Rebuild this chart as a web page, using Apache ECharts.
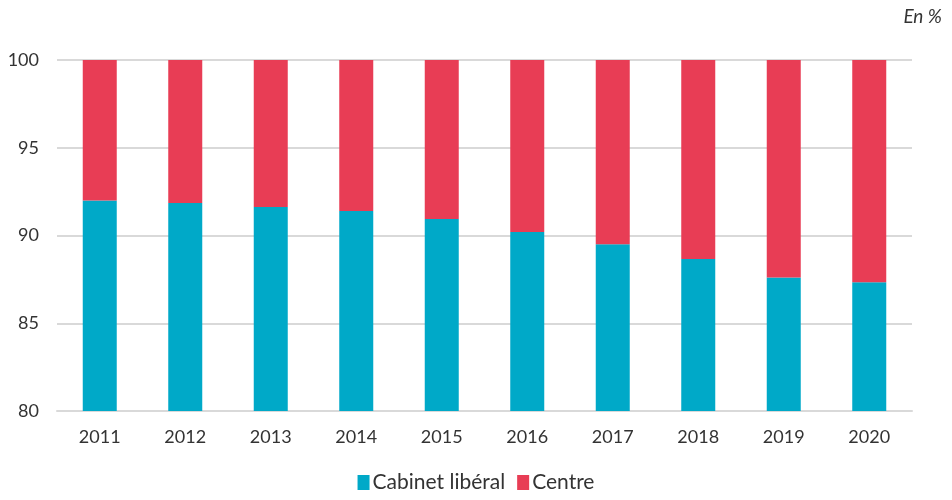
<!DOCTYPE html>
<html><head><meta charset="utf-8">
<script src="https://cdn.jsdelivr.net/npm/echarts@6/dist/echarts.min.js"></script>
<style>html,body{margin:0;padding:0;background:#fff}#c{width:952px;height:500px}</style>
</head><body><div id="c"></div>
<script>
const years = ['2011','2012','2013','2014','2015','2016','2017','2018','2019','2020'];
const cabinetLiberal = [92.0, 91.85, 91.62, 91.4, 90.94, 90.2, 89.5, 88.66, 87.6, 87.33];
const centre = [8.0, 8.15, 8.38, 8.6, 9.06, 9.8, 10.5, 11.34, 12.4, 12.67];
const chart = echarts.init(document.getElementById('c'));
const font = 'Lato';
chart.setOption({
  animation: false,
  textStyle: {fontFamily: font},
  grid: {left: 57, right: 40, top: 60, bottom: 89},
  graphic: [{type: 'text', right: 10, top: 7, style: {text: 'En %', font: 'italic 19px ' + font, fill: '#333'}}],
  legend: {bottom: 2, left: 'center', itemWidth: 12, itemHeight: 15, itemGap: 12,
    icon: 'rect', textStyle: {fontSize: 21, color: '#333', fontFamily: font, padding: [0,0,0,-2]},
    data: ['Cabinet libéral', 'Centre']},
  xAxis: {type: 'category', data: years,
    axisLine: {show: true, lineStyle: {color: '#d9d9d9', width: 2}}, axisTick: {show: false},
    axisLabel: {fontSize: 18, color: '#333', margin: 17}},
  yAxis: {type: 'value', min: 80, max: 100, interval: 5,
    axisLine: {show: false}, axisTick: {show: false},
    axisLabel: {fontSize: 18, color: '#333', margin: 18},
    splitLine: {lineStyle: {color: '#d9d9d9', width: 2}}},
  series: [
    {name: 'Cabinet libéral', type: 'bar', stack: 's', barWidth: 34, data: cabinetLiberal, itemStyle: {color: '#00A9C8'}},
    {name: 'Centre', type: 'bar', stack: 's', barWidth: 34, data: centre, itemStyle: {color: '#E83D55'}}
  ]
});
</script></body></html>
